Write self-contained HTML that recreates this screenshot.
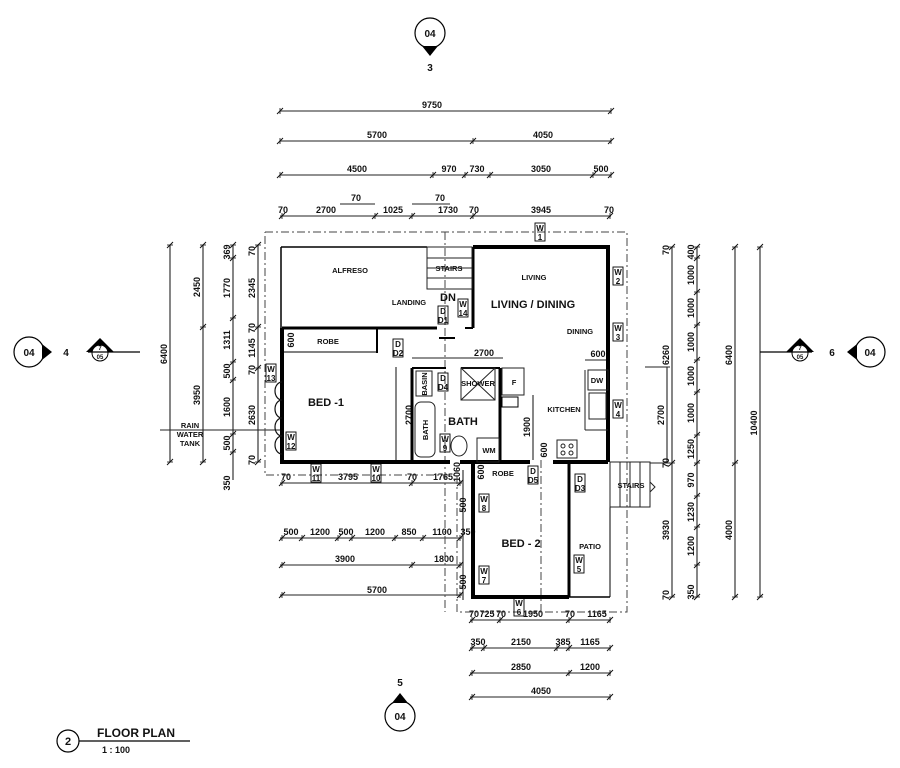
<!DOCTYPE html>
<html><head><meta charset="utf-8"><style>
html,body{margin:0;padding:0;background:#fff;}
svg{display:block;}
text{font-family:"Liberation Sans",sans-serif;fill:#111;font-weight:bold;}
</style></head><body>
<svg width="900" height="768" viewBox="0 0 900 768" xmlns="http://www.w3.org/2000/svg">
<defs>
<g id="tk"><line x1="-3" y1="3" x2="3" y2="-3" stroke="#111" stroke-width="1"/><line x1="0" y1="-3" x2="0" y2="3" stroke="#111" stroke-width="0.8"/></g>
<g id="tv"><line x1="-3" y1="3" x2="3" y2="-3" stroke="#111" stroke-width="1"/><line x1="-3" y1="0" x2="3" y2="0" stroke="#111" stroke-width="0.8"/></g>
</defs>
<g stroke="#222" stroke-width="1.1" fill="none">
<line x1="280" y1="111" x2="611" y2="111"/>
<line x1="280" y1="141" x2="611" y2="141"/>
<line x1="280" y1="175" x2="611" y2="175"/>
<line x1="280" y1="216" x2="611" y2="216"/>
<line x1="340" y1="204" x2="375" y2="204"/>
<line x1="412" y1="204" x2="450" y2="204"/>
<line x1="170" y1="245" x2="170" y2="462"/>
<line x1="203" y1="245" x2="203" y2="462"/>
<line x1="233" y1="245" x2="233" y2="480"/>
<line x1="258" y1="245" x2="258" y2="462"/>
<line x1="160" y1="430" x2="280" y2="430"/>
<line x1="672" y1="247" x2="672" y2="597"/>
<line x1="697" y1="247" x2="697" y2="597"/>
<line x1="735" y1="247" x2="735" y2="597"/>
<line x1="760" y1="247" x2="760" y2="597"/>
<line x1="645" y1="367" x2="670" y2="367"/>
<line x1="650" y1="463" x2="670" y2="463"/>
<line x1="667" y1="367" x2="667" y2="463"/>
<line x1="280" y1="483" x2="462" y2="483"/>
<line x1="280" y1="538" x2="462" y2="538"/>
<line x1="280" y1="565" x2="462" y2="565"/>
<line x1="280" y1="595" x2="462" y2="595"/>
<line x1="470" y1="620" x2="611" y2="620"/>
<line x1="470" y1="648" x2="611" y2="648"/>
<line x1="470" y1="673" x2="611" y2="673"/>
<line x1="470" y1="697" x2="611" y2="697"/>
<line x1="463" y1="470" x2="463" y2="600"/>
<line x1="412" y1="358" x2="503" y2="358"/>
<line x1="396" y1="367" x2="396" y2="460"/>
<line x1="533" y1="395" x2="533" y2="460"/>
<line x1="585" y1="360" x2="608" y2="360"/>
</g>
<g>
<use href="#tk" x="280" y="111"/><use href="#tk" x="611" y="111"/>
<use href="#tk" x="280" y="141"/><use href="#tk" x="473" y="141"/><use href="#tk" x="611" y="141"/>
<use href="#tk" x="280" y="175"/><use href="#tk" x="433" y="175"/><use href="#tk" x="465" y="175"/><use href="#tk" x="490" y="175"/><use href="#tk" x="593" y="175"/><use href="#tk" x="611" y="175"/>
<use href="#tk" x="282" y="216"/><use href="#tk" x="375" y="216"/><use href="#tk" x="412" y="216"/><use href="#tk" x="473" y="216"/><use href="#tk" x="610" y="216"/>
<use href="#tv" x="170" y="245"/><use href="#tv" x="170" y="462"/>
<use href="#tv" x="203" y="245"/><use href="#tv" x="203" y="327"/><use href="#tv" x="203" y="462"/>
<use href="#tv" x="233" y="245"/><use href="#tv" x="233" y="258"/><use href="#tv" x="233" y="318"/><use href="#tv" x="233" y="362"/><use href="#tv" x="233" y="380"/><use href="#tv" x="233" y="434"/><use href="#tv" x="233" y="452"/>
<use href="#tv" x="258" y="245"/><use href="#tv" x="258" y="327"/><use href="#tv" x="258" y="368"/><use href="#tv" x="258" y="462"/>
<use href="#tv" x="672" y="247"/><use href="#tv" x="672" y="463"/><use href="#tv" x="672" y="597"/>
<use href="#tv" x="697" y="247"/><use href="#tv" x="697" y="258"/><use href="#tv" x="697" y="292"/><use href="#tv" x="697" y="325"/><use href="#tv" x="697" y="360"/><use href="#tv" x="697" y="392"/><use href="#tv" x="697" y="435"/><use href="#tv" x="697" y="463"/><use href="#tv" x="697" y="496"/><use href="#tv" x="697" y="527"/><use href="#tv" x="697" y="565"/><use href="#tv" x="697" y="597"/>
<use href="#tv" x="735" y="247"/><use href="#tv" x="735" y="463"/><use href="#tv" x="735" y="597"/>
<use href="#tv" x="760" y="247"/><use href="#tv" x="760" y="597"/>
<use href="#tk" x="282" y="483"/><use href="#tk" x="412" y="483"/><use href="#tk" x="460" y="483"/>
<use href="#tk" x="282" y="538"/><use href="#tk" x="302" y="538"/><use href="#tk" x="338" y="538"/><use href="#tk" x="352" y="538"/><use href="#tk" x="395" y="538"/><use href="#tk" x="423" y="538"/><use href="#tk" x="460" y="538"/>
<use href="#tk" x="282" y="565"/><use href="#tk" x="412" y="565"/><use href="#tk" x="460" y="565"/>
<use href="#tk" x="282" y="595"/><use href="#tk" x="460" y="595"/>
<use href="#tk" x="472" y="620"/><use href="#tk" x="500" y="620"/><use href="#tk" x="569" y="620"/><use href="#tk" x="610" y="620"/>
<use href="#tk" x="472" y="648"/><use href="#tk" x="484" y="648"/><use href="#tk" x="557" y="648"/><use href="#tk" x="569" y="648"/><use href="#tk" x="610" y="648"/>
<use href="#tk" x="472" y="673"/><use href="#tk" x="569" y="673"/><use href="#tk" x="610" y="673"/>
<use href="#tk" x="472" y="697"/><use href="#tk" x="610" y="697"/>
</g>
<g font-size="9" text-anchor="middle">
<text x="432" y="108">9750</text>
<text x="377" y="138">5700</text><text x="543" y="138">4050</text>
<text x="357" y="172">4500</text><text x="449" y="172">970</text><text x="477" y="172">730</text><text x="541" y="172">3050</text><text x="601" y="172">500</text>
<text x="283" y="213">70</text><text x="326" y="213">2700</text><text x="356" y="201">70</text><text x="393" y="213">1025</text><text x="440" y="201">70</text><text x="448" y="213">1730</text><text x="474" y="213">70</text><text x="541" y="213">3945</text><text x="609" y="213">70</text>
<text x="286" y="480">70</text><text x="348" y="480">3795</text><text x="412" y="480">70</text><text x="443" y="480">1765</text>
<text x="291" y="535">500</text><text x="320" y="535">1200</text><text x="346" y="535">500</text><text x="375" y="535">1200</text><text x="409" y="535">850</text><text x="442" y="535">1100</text><text x="468" y="535">350</text>
<text x="345" y="562">3900</text><text x="444" y="562">1800</text>
<text x="377" y="593">5700</text>
<text x="474" y="617">70</text><text x="487" y="617">725</text><text x="501" y="617">70</text><text x="533" y="617">1950</text><text x="570" y="617">70</text><text x="597" y="617">1165</text>
<text x="478" y="645">350</text><text x="521" y="645">2150</text><text x="563" y="645">385</text><text x="590" y="645">1165</text>
<text x="521" y="670">2850</text><text x="590" y="670">1200</text>
<text x="541" y="694">4050</text>
<text x="484" y="356">2700</text><text x="598" y="357">600</text>
</g>
<g font-size="9" text-anchor="middle">
<text transform="translate(167,354) rotate(-90)">6400</text>
<text transform="translate(200,287) rotate(-90)">2450</text>
<text transform="translate(200,395) rotate(-90)">3950</text>
<text transform="translate(230,252) rotate(-90)">369</text>
<text transform="translate(230,288) rotate(-90)">1770</text>
<text transform="translate(230,340) rotate(-90)">1311</text>
<text transform="translate(230,371) rotate(-90)">500</text>
<text transform="translate(230,407) rotate(-90)">1600</text>
<text transform="translate(230,443) rotate(-90)">500</text>
<text transform="translate(230,483) rotate(-90)">350</text>
<text transform="translate(255,251) rotate(-90)">70</text>
<text transform="translate(255,288) rotate(-90)">2345</text>
<text transform="translate(255,328) rotate(-90)">70</text>
<text transform="translate(255,348) rotate(-90)">1145</text>
<text transform="translate(255,370) rotate(-90)">70</text>
<text transform="translate(255,415) rotate(-90)">2630</text>
<text transform="translate(255,460) rotate(-90)">70</text>
<text transform="translate(669,250) rotate(-90)">70</text>
<text transform="translate(669,355) rotate(-90)">6260</text>
<text transform="translate(664,415) rotate(-90)">2700</text>
<text transform="translate(669,463) rotate(-90)">70</text>
<text transform="translate(669,530) rotate(-90)">3930</text>
<text transform="translate(669,595) rotate(-90)">70</text>
<text transform="translate(694,252) rotate(-90)">400</text>
<text transform="translate(694,275) rotate(-90)">1000</text>
<text transform="translate(694,308) rotate(-90)">1000</text>
<text transform="translate(694,342) rotate(-90)">1000</text>
<text transform="translate(694,376) rotate(-90)">1000</text>
<text transform="translate(694,413) rotate(-90)">1000</text>
<text transform="translate(694,449) rotate(-90)">1250</text>
<text transform="translate(694,480) rotate(-90)">970</text>
<text transform="translate(694,512) rotate(-90)">1230</text>
<text transform="translate(694,546) rotate(-90)">1200</text>
<text transform="translate(694,592) rotate(-90)">350</text>
<text transform="translate(732,355) rotate(-90)">6400</text>
<text transform="translate(732,530) rotate(-90)">4000</text>
<text transform="translate(757,423) rotate(-90)">10400</text>
<text transform="translate(412,415) rotate(-90)">2700</text>
<text transform="translate(530,427) rotate(-90)">1900</text>
<text transform="translate(294,340) rotate(-90)">600</text>
<text transform="translate(547,450) rotate(-90)">600</text>
<text transform="translate(460,472) rotate(-90)">1060</text>
<text transform="translate(466,505) rotate(-90)">500</text>
<text transform="translate(466,582) rotate(-90)">500</text>
<text transform="translate(484,472) rotate(-90)">600</text>
</g>
<g stroke="#444" stroke-width="1" fill="none" stroke-dasharray="8,3,2,3">
<polyline points="265,232 627,232 627,612 457,612 457,475 265,475 265,232"/>
<line x1="445" y1="232" x2="445" y2="612"/>
<line x1="541" y1="460" x2="541" y2="612"/>
</g>
<g stroke="#000" fill="none">
<polyline points="473,247 608,247 608,462" stroke-width="4"/>
<line x1="473" y1="247" x2="473" y2="328" stroke-width="3"/>
<line x1="281" y1="247" x2="427" y2="247" stroke-width="1.5"/>
<line x1="281" y1="247" x2="281" y2="328" stroke-width="1.5"/>
<polyline points="282,328 282,462 450,462" stroke-width="4"/>
<line x1="282" y1="328" x2="437" y2="328" stroke-width="3"/>
<line x1="377" y1="328" x2="377" y2="353" stroke-width="2"/>
<line x1="282" y1="352" x2="377" y2="352" stroke-width="1"/>
<line x1="412" y1="368" x2="412" y2="462" stroke-width="3"/>
<line x1="412" y1="368" x2="446" y2="368" stroke-width="2"/>
<line x1="461" y1="368" x2="500" y2="368" stroke-width="2"/>
<line x1="500" y1="368" x2="500" y2="462" stroke-width="3"/>
<line x1="460" y1="462" x2="530" y2="462" stroke-width="4"/>
<line x1="553" y1="462" x2="608" y2="462" stroke-width="4"/>
<polyline points="473,462 473,597 569,597" stroke-width="4"/>
<line x1="569" y1="462" x2="569" y2="597" stroke-width="3"/>
<line x1="569" y1="597" x2="610" y2="597" stroke-width="1.5"/>
<line x1="610" y1="462" x2="610" y2="597" stroke-width="1"/>
<line x1="439" y1="338" x2="455" y2="338" stroke-width="2"/>
<line x1="465" y1="328" x2="473" y2="328" stroke-width="2"/>
</g>
<g stroke="#222" stroke-width="1" fill="none">
<rect x="427" y="247" width="45" height="42"/>
<line x1="427" y1="258" x2="472" y2="258"/><line x1="427" y1="268" x2="472" y2="268"/><line x1="427" y1="278" x2="472" y2="278"/>
<rect x="610" y="462" width="40" height="45"/>
<line x1="620" y1="462" x2="620" y2="507"/><line x1="630" y1="462" x2="630" y2="507"/><line x1="640" y1="462" x2="640" y2="507"/>
<polyline points="650,482 655,487 650,492"/>
<rect x="416" y="371" width="16" height="25"/>
<rect x="415" y="402" width="20" height="55" rx="6"/>
<rect x="461" y="368" width="34" height="32"/>
<line x1="461" y1="368" x2="495" y2="400"/><line x1="495" y1="368" x2="461" y2="400"/>
<rect x="502" y="368" width="22" height="27"/>
<rect x="477" y="438" width="22" height="24"/>
<ellipse cx="459" cy="446" rx="8" ry="10"/>
<rect x="588" y="370" width="20" height="20"/>
<rect x="589" y="393" width="17" height="26"/>
<line x1="585" y1="430" x2="608" y2="430"/><line x1="585" y1="370" x2="585" y2="430"/>
<rect x="557" y="440" width="20" height="18"/>
<circle cx="563" cy="446" r="2"/><circle cx="571" cy="446" r="2"/><circle cx="563" cy="453" r="2"/><circle cx="571" cy="453" r="2"/>
<rect x="502" y="397" width="16" height="10" stroke="#000"/>
</g>
<g stroke="#111" stroke-width="1.2" fill="none">
<path d="M282,382 a7,9 0 0 0 0,18 a7,9 0 0 0 0,18 a7,9 0 0 0 0,18 a7,9 0 0 0 0,18"/>
</g>
<g font-size="7.5" text-anchor="middle">
<text x="350" y="273">ALFRESO</text><text x="449" y="271">STAIRS</text><text x="534" y="280">LIVING</text>
<text x="409" y="305">LANDING</text><text x="580" y="334">DINING</text><text x="328" y="344">ROBE</text>
<text x="564" y="412">KITCHEN</text><text x="597" y="383">DW</text><text x="514" y="385">F</text><text x="478" y="386">SHOWER</text>
<text x="489" y="453">WM</text><text x="503" y="476">ROBE</text><text x="590" y="549">PATIO</text><text x="631" y="488">STAIRS</text>
<text x="190" y="428">RAIN</text><text x="190" y="437">WATER</text><text x="190" y="446">TANK</text>
<text transform="translate(427,384) rotate(-90)">BASIN</text>
<text transform="translate(428,430) rotate(-90)">BATH</text>
</g>
<g font-size="11" text-anchor="middle">
<text x="533" y="308">LIVING / DINING</text>
<text x="326" y="406">BED -1</text>
<text x="463" y="425">BATH</text>
<text x="521" y="547">BED - 2</text>
<text x="448" y="301">DN</text>
</g>
<g font-size="8" text-anchor="middle">
<g stroke="#000" stroke-width="0.9" fill="none">
<rect x="535" y="223" width="10" height="18"/><rect x="613" y="267" width="10" height="18"/><rect x="613" y="323" width="10" height="18"/><rect x="613" y="400" width="10" height="18"/>
<rect x="458" y="299" width="10" height="18"/><rect x="438" y="306" width="10" height="18"/><rect x="393" y="339" width="10" height="18"/><rect x="438" y="373" width="10" height="18"/>
<rect x="266" y="364" width="10" height="18"/><rect x="286" y="432" width="10" height="18"/><rect x="311" y="464" width="10" height="18"/><rect x="371" y="464" width="10" height="18"/>
<rect x="440" y="434" width="10" height="18"/><rect x="528" y="466" width="10" height="18"/><rect x="575" y="474" width="10" height="18"/>
<rect x="479" y="494" width="10" height="18"/><rect x="479" y="566" width="10" height="18"/><rect x="574" y="555" width="10" height="18"/><rect x="514" y="598" width="10" height="18"/>
</g>
<text x="540" y="231">W</text><text x="540" y="240">1</text>
<text x="618" y="275">W</text><text x="618" y="284">2</text>
<text x="618" y="331">W</text><text x="618" y="340">3</text>
<text x="618" y="408">W</text><text x="618" y="417">4</text>
<text x="463" y="307">W</text><text x="463" y="316">14</text>
<text x="443" y="314">D</text><text x="443" y="323">D1</text>
<text x="398" y="347">D</text><text x="398" y="356">D2</text>
<text x="443" y="381">D</text><text x="443" y="390">D4</text>
<text x="271" y="372">W</text><text x="271" y="381">13</text>
<text x="291" y="440">W</text><text x="291" y="449">12</text>
<text x="316" y="472">W</text><text x="316" y="481">11</text>
<text x="376" y="472">W</text><text x="376" y="481">10</text>
<text x="445" y="442">W</text><text x="445" y="451">9</text>
<text x="533" y="474">D</text><text x="533" y="483">D5</text>
<text x="580" y="482">D</text><text x="580" y="491">D3</text>
<text x="484" y="502">W</text><text x="484" y="511">8</text>
<text x="484" y="574">W</text><text x="484" y="583">7</text>
<text x="579" y="563">W</text><text x="579" y="572">5</text>
<text x="519" y="606">W</text><text x="519" y="615">6</text>
</g>
<g stroke="#000" stroke-width="1.2" fill="#fff">
<circle cx="430" cy="33" r="15"/>
<circle cx="29" cy="352" r="15"/>
<circle cx="870" cy="352" r="15"/>
<circle cx="400" cy="716" r="15"/>
<circle cx="68" cy="741" r="11"/>
</g>
<g fill="#000">
<polygon points="422,46 438,46 430,56"/>
<polygon points="42,344 42,360 52,352"/>
<polygon points="857,344 857,360 847,352"/>
<polygon points="392,703 408,703 400,693"/>
<polygon points="86,352 114,352 100,338"/>
<polygon points="786,352 814,352 800,338"/>
</g>
<g stroke="#000" stroke-width="1" fill="#fff">
<circle cx="100" cy="353" r="8"/>
<circle cx="800" cy="353" r="8"/>
</g>
<g stroke="#000" stroke-width="1.2" fill="none">
<line x1="88" y1="352" x2="140" y2="352"/>
<line x1="760" y1="352" x2="812" y2="352"/>
<line x1="79" y1="741" x2="190" y2="741"/>
</g>
<g text-anchor="middle">
<text x="430" y="37" font-size="10">04</text>
<text x="430" y="71" font-size="10">3</text>
<text x="29" y="356" font-size="10">04</text>
<text x="66" y="356" font-size="10">4</text>
<text x="870" y="356" font-size="10">04</text>
<text x="832" y="356" font-size="10">6</text>
<text x="400" y="720" font-size="10">04</text>
<text x="400" y="686" font-size="10">5</text>
<text x="100" y="350" font-size="6">7</text><text x="100" y="359" font-size="6">05</text>
<text x="800" y="350" font-size="6">7</text><text x="800" y="359" font-size="6">05</text>
<text x="68" y="745" font-size="11">2</text>
</g>
<text x="97" y="737" font-size="12">FLOOR PLAN</text>
<text x="102" y="753" font-size="9">1 : 100</text>
</svg>
</body></html>
